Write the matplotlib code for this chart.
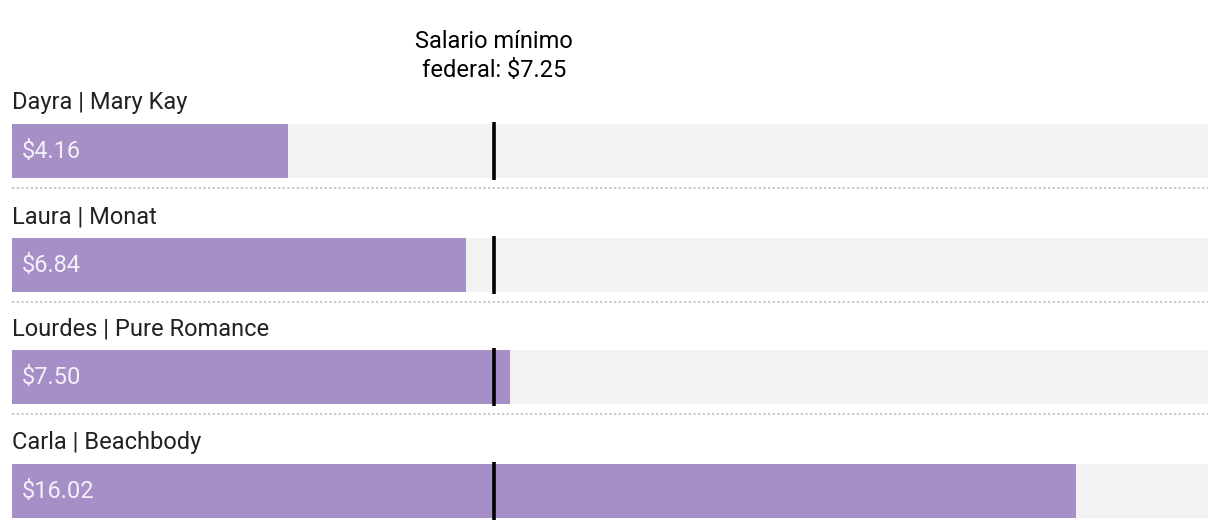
import matplotlib
matplotlib.use("Agg")
from matplotlib import pyplot as plt

names = ["Dayra | Mary Kay", "Laura | Monat", "Lourdes | Pure Romance", "Carla | Beachbody"]
wages = [4.16, 6.84, 7.50, 16.02]
min_wage = 7.25
x_max = 18.0

plt.rcParams['font.family'] = ['Roboto', 'DejaVu Sans']

fig = plt.figure(figsize=(12.2, 5.3), dpi=100)
ax = fig.add_axes([12 / 1220, 0, 1196 / 1220, 1])
ax.set_xlim(0, x_max)
ax.set_ylim(530, 0)  # pixel-like rows, top down
ax.axis("off")

purple = "#a68fc6"
row_top = [124, 238, 350, 464]
bar_h = 54
fs = 17

for i, (name, w) in enumerate(zip(names, wages)):
    top = row_top[i]
    ax.barh(top + bar_h / 2, x_max, height=bar_h, left=0, color="#f2f2f2", zorder=1)
    ax.barh(top + bar_h / 2, w, height=bar_h, left=0, color=purple, zorder=2)
    ax.plot([min_wage, min_wage], [top - 2, top + bar_h + 2], color="black", lw=2.6, zorder=3,
            solid_capstyle="butt")
    ax.text(0, top - 21, name, fontsize=fs, color="#222222", va="center", ha="left")
    ax.text(0.15, top + bar_h / 2, f"${w:.2f}", fontsize=fs, color="#f4f0f8", va="center", ha="left", zorder=4)
    if i < len(names) - 1:
        ax.plot([0, x_max], [top + bar_h + 10, top + bar_h + 10], color="#c8c8c8", lw=1.4,
                linestyle=(0, (1.2, 1.2)), zorder=1)

ax.text(min_wage, 56, "Salario mínimo\nfederal: $7.25", fontsize=fs, color="black",
        ha="center", va="center", linespacing=1.35)

fig.savefig("out.png", dpi=100)
